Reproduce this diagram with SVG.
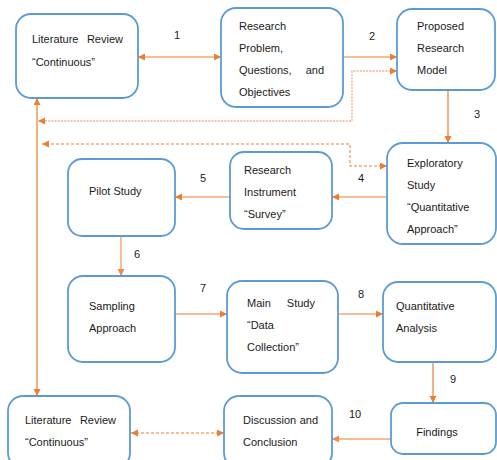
<svg xmlns="http://www.w3.org/2000/svg" width="497" height="460" viewBox="0 0 497 460">
<defs>
<marker id="ah" markerUnits="userSpaceOnUse" markerWidth="8" markerHeight="8" refX="7" refY="3.5" orient="auto-start-reverse"><path d="M0,0 L7,3.5 L0,7 z" fill="#ED7D31"/></marker>
<marker id="ahl" markerUnits="userSpaceOnUse" markerWidth="8" markerHeight="8" refX="7" refY="3.5" orient="auto-start-reverse"><path d="M0,0 L7,3.5 L0,7 z" fill="#F08A48"/></marker>
<style>
.box{fill:#fff;stroke:#5B9BD5;stroke-width:1.8}
text{font-family:"Liberation Sans",Arial,sans-serif;font-size:11px;fill:#1a1a1a}
.lbl{text-anchor:middle}
.e{text-anchor:end}
.c{fill:none;stroke:#ED7D31;stroke-width:1.2}
.cl{fill:none;stroke:#F4A46F;stroke-width:1.4}
.d1{fill:none;stroke:#F4B183;stroke-width:1.4;stroke-dasharray:2 1.2}
.d2{fill:none;stroke:#ED7D31;stroke-width:1;stroke-dasharray:3 2}
</style>
</defs>
<rect width="497" height="460" fill="#fff"/>
<g id="connectors">
<line class="c" x1="138" y1="57" x2="221" y2="57" marker-start="url(#ah)" marker-end="url(#ah)"/>
<line class="c" x1="343" y1="57" x2="397" y2="57" marker-end="url(#ah)"/>
<line class="c" x1="448" y1="90" x2="448" y2="143" marker-end="url(#ah)"/>
<line class="c" x1="387" y1="197" x2="332" y2="197" marker-end="url(#ah)"/>
<line class="c" x1="230" y1="197" x2="175" y2="197" marker-end="url(#ah)"/>
<line class="cl" x1="121" y1="236" x2="121" y2="276" marker-end="url(#ahl)"/>
<line class="c" x1="175" y1="314" x2="227" y2="314" marker-end="url(#ah)"/>
<line class="c" x1="338" y1="314" x2="383" y2="314" marker-end="url(#ah)"/>
<line class="c" x1="433" y1="362" x2="433" y2="403" marker-end="url(#ah)"/>
<line class="cl" x1="391" y1="439" x2="332" y2="439" marker-end="url(#ahl)"/>
<line class="c" x1="37" y1="98" x2="37" y2="396" marker-start="url(#ah)" marker-end="url(#ah)"/>
<path class="d1" d="M397,71 H352 V121 H38" marker-start="url(#ah)" marker-end="url(#ah)"/>
<path class="d2" d="M387,166 H350 V144 H42" marker-start="url(#ah)" marker-end="url(#ah)"/>
<line class="d2" x1="131" y1="433" x2="224" y2="433" marker-start="url(#ah)" marker-end="url(#ah)"/>
<text class="lbl" x="177" y="39">1</text>
<text class="lbl" x="372" y="40">2</text>
<text class="lbl" x="477" y="118">3</text>
<text class="lbl" x="361" y="182">4</text>
<text class="lbl" x="203" y="182">5</text>
<text class="lbl" x="137" y="258">6</text>
<text class="lbl" x="203" y="292">7</text>
<text class="lbl" x="361" y="298">8</text>
<text class="lbl" x="453" y="383">9</text>
<text class="lbl" x="355" y="418">10</text>
</g>
<g id="lit-review-top">
<rect class="box" x="16" y="14" width="122" height="84" rx="15"/>
<text x="32" y="43">Literature</text>
<text class="e" x="123" y="43">Review</text>
<text x="32" y="66">“Continuous”</text>
</g>
<g id="research-problem">
<rect class="box" x="221" y="8" width="122" height="99" rx="15"/>
<text x="239" y="30">Research</text>
<text x="239" y="52">Problem,</text>
<text x="239" y="74">Questions,</text>
<text class="e" x="324" y="74">and</text>
<text x="239" y="96">Objectives</text>
</g>
<g id="proposed-model">
<rect class="box" x="397" y="9" width="98" height="81" rx="15"/>
<text x="417" y="30">Proposed</text>
<text x="417" y="52">Research</text>
<text x="417" y="74">Model</text>
</g>
<g id="exploratory-study">
<rect class="box" x="387" y="143" width="109" height="101" rx="16"/>
<text x="407" y="167">Exploratory</text>
<text x="407" y="189">Study</text>
<text x="407" y="211">“Quantitative</text>
<text x="407" y="233">Approach”</text>
</g>
<g id="research-instrument">
<rect class="box" x="230" y="152" width="102" height="77" rx="14"/>
<text x="244" y="174">Research</text>
<text x="244" y="196">Instrument</text>
<text x="244" y="218">“Survey”</text>
</g>
<g id="pilot-study">
<rect class="box" x="68" y="159" width="107" height="77" rx="14"/>
<text x="89" y="195">Pilot Study</text>
</g>
<g id="sampling-approach">
<rect class="box" x="68" y="276" width="107" height="86" rx="15"/>
<text x="89" y="310">Sampling</text>
<text x="89" y="332">Approach</text>
</g>
<g id="main-study">
<rect class="box" x="227" y="281" width="111" height="92" rx="15"/>
<text x="247" y="307">Main</text>
<text class="e" x="315" y="307">Study</text>
<text x="247" y="329">“Data</text>
<text x="247" y="351">Collection”</text>
</g>
<g id="quantitative-analysis">
<rect class="box" x="383" y="282" width="113" height="80" rx="15"/>
<text x="396" y="310">Quantitative</text>
<text x="396" y="332">Analysis</text>
</g>
<g id="findings">
<rect class="box" x="391" y="403" width="105" height="51" rx="12"/>
<text x="437" y="436" text-anchor="middle">Findings</text>
</g>
<g id="discussion-conclusion">
<rect class="box" x="224" y="396" width="108" height="72" rx="15"/>
<text x="243" y="424">Discussion</text>
<text class="e" x="318" y="424">and</text>
<text x="243" y="446">Conclusion</text>
</g>
<g id="lit-review-bottom">
<rect class="box" x="8" y="396" width="122" height="72" rx="15"/>
<text x="25" y="424">Literature</text>
<text class="e" x="116" y="424">Review</text>
<text x="25" y="446">“Continuous”</text>
</g>
</svg>
